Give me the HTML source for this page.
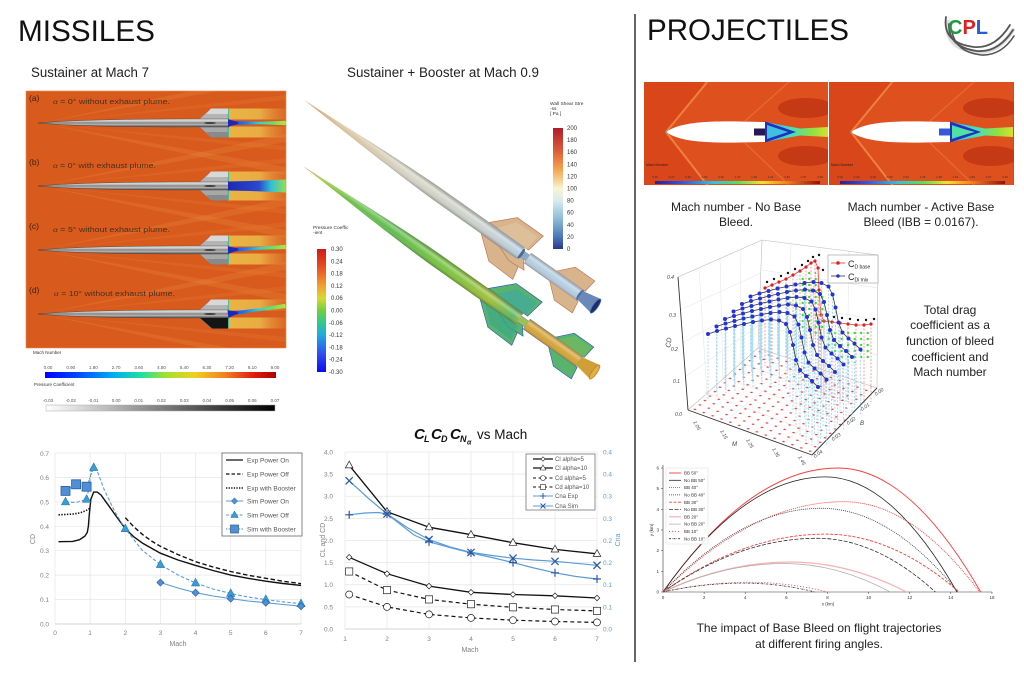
<!DOCTYPE html>
<html><head><meta charset="utf-8">
<style>
html,body{margin:0;padding:0;background:#fff;}
svg{display:block;}
text{font-family:"Liberation Sans",sans-serif;}
</style></head><body>
<svg width="1024" height="675" viewBox="0 0 1024 675" xmlns="http://www.w3.org/2000/svg">
<defs>
  <clipPath id="cfdClip"><rect x="26" y="91" width="260" height="257"/></clipPath>
  <clipPath id="p1Clip"><rect x="644" y="82" width="184" height="103"/></clipPath>
  <clipPath id="p2Clip"><rect x="829" y="82" width="185" height="103"/></clipPath>
  <linearGradient id="mbody" x1="0" y1="-4" x2="0" y2="4" gradientUnits="userSpaceOnUse">
    <stop offset="0" stop-color="#e8e8e8"/><stop offset=".3" stop-color="#c4c4c4"/>
    <stop offset=".5" stop-color="#808080"/><stop offset=".65" stop-color="#b8b8b8"/>
    <stop offset="1" stop-color="#505050"/>
  </linearGradient>
  <linearGradient id="plumeG" x1="226" y1="0" x2="286" y2="0" gradientUnits="userSpaceOnUse">
    <stop offset="0" stop-color="#1830d0"/><stop offset=".35" stop-color="#2080f0"/>
    <stop offset=".55" stop-color="#30d0d0"/><stop offset=".8" stop-color="#70e060"/>
    <stop offset="1" stop-color="#c0e040"/>
  </linearGradient>
  <linearGradient id="plumeG2" x1="226" y1="0" x2="286" y2="0" gradientUnits="userSpaceOnUse">
    <stop offset="0" stop-color="#1c28b0"/><stop offset=".55" stop-color="#2a48d0"/>
    <stop offset=".75" stop-color="#30c0d8"/><stop offset="1" stop-color="#90e050"/>
  </linearGradient>
  <linearGradient id="wakeG" x1="228" y1="0" x2="286" y2="0" gradientUnits="userSpaceOnUse">
    <stop offset="0" stop-color="#eab444" stop-opacity="1"/><stop offset=".55" stop-color="#e8ac44" stop-opacity="1"/>
    <stop offset="1" stop-color="#e48a38" stop-opacity=".3"/>
  </linearGradient>
  <linearGradient id="rainbow" x1="0" y1="0" x2="1" y2="0">
    <stop offset="0" stop-color="#0000ff"/><stop offset=".15" stop-color="#0050ff"/>
    <stop offset=".3" stop-color="#00b0f0"/><stop offset=".42" stop-color="#20e0a0"/>
    <stop offset=".52" stop-color="#a0e030"/><stop offset=".65" stop-color="#f0d020"/>
    <stop offset=".78" stop-color="#f08020"/><stop offset=".9" stop-color="#e02010"/>
    <stop offset="1" stop-color="#b00000"/>
  </linearGradient>
  <linearGradient id="grayG" x1="0" y1="0" x2="1" y2="0">
    <stop offset="0" stop-color="#ffffff"/><stop offset="1" stop-color="#000000"/>
  </linearGradient>
  <linearGradient id="machG" x1="0" y1="0" x2="1" y2="0">
    <stop offset="0" stop-color="#30208a"/><stop offset=".15" stop-color="#3050e0"/>
    <stop offset=".35" stop-color="#30c0e0"/><stop offset=".5" stop-color="#50e060"/>
    <stop offset=".65" stop-color="#f0e030"/><stop offset=".8" stop-color="#f08020"/>
    <stop offset="1" stop-color="#901010"/>
  </linearGradient>
  <linearGradient id="jetPlume" x1="765" y1="0" x2="828" y2="0" gradientUnits="userSpaceOnUse">
    <stop offset="0" stop-color="#30b0f0"/><stop offset=".4" stop-color="#40e0c0"/>
    <stop offset=".75" stop-color="#90e040"/><stop offset="1" stop-color="#d8e030"/>
  </linearGradient>
  <linearGradient id="wssG" x1="0" y1="0" x2="0" y2="1">
    <stop offset="0" stop-color="#b01c2a"/><stop offset=".2" stop-color="#e0603a"/>
    <stop offset=".35" stop-color="#f4a850"/><stop offset=".5" stop-color="#f8f4d0"/>
    <stop offset=".6" stop-color="#d8ecf0"/><stop offset=".75" stop-color="#8cbcd8"/>
    <stop offset=".9" stop-color="#4a78b8"/><stop offset="1" stop-color="#2a3888"/>
  </linearGradient>
  <linearGradient id="cpG" x1="0" y1="0" x2="0" y2="1">
    <stop offset="0" stop-color="#d01818"/><stop offset=".15" stop-color="#e85020"/>
    <stop offset=".3" stop-color="#f0a030"/><stop offset=".4" stop-color="#d8d830"/>
    <stop offset=".5" stop-color="#70d040"/><stop offset=".6" stop-color="#30c890"/>
    <stop offset=".7" stop-color="#20a8e0"/><stop offset=".85" stop-color="#3050f0"/>
    <stop offset="1" stop-color="#0a0af0"/>
  </linearGradient>
  <linearGradient id="upG" x1="0" y1="0" x2="358" y2="0" gradientUnits="userSpaceOnUse">
    <stop offset="0" stop-color="#d49060"/><stop offset=".12" stop-color="#d8c098"/>
    <stop offset=".35" stop-color="#d6d4c4"/><stop offset=".6" stop-color="#cdd2cc"/>
    <stop offset=".74" stop-color="#b8cedf"/><stop offset="1" stop-color="#a8c4dc"/>
  </linearGradient>
  <linearGradient id="loG" x1="0" y1="0" x2="358" y2="0" gradientUnits="userSpaceOnUse">
    <stop offset="0" stop-color="#e09040"/><stop offset=".06" stop-color="#a8c840"/>
    <stop offset=".15" stop-color="#70c048"/><stop offset=".3" stop-color="#60bc50"/>
    <stop offset=".5" stop-color="#7cc440"/><stop offset=".64" stop-color="#a0c038"/>
    <stop offset=".72" stop-color="#60b860"/><stop offset=".77" stop-color="#d4a838"/>
    <stop offset="1" stop-color="#d8a030"/>
  </linearGradient>
  <linearGradient id="shadeG" x1="0" y1="-7" x2="0" y2="7" gradientUnits="userSpaceOnUse">
    <stop offset="0" stop-color="#000" stop-opacity=".25"/><stop offset=".3" stop-color="#fff" stop-opacity=".35"/>
    <stop offset=".6" stop-color="#fff" stop-opacity="0"/><stop offset="1" stop-color="#000" stop-opacity=".3"/>
  </linearGradient>
  <pattern id="redDots" patternUnits="userSpaceOnUse" width="1" height="1" patternTransform="matrix(8.86,3.21,5,-4.43,688,410)">
    <circle cx=".5" cy=".5" r=".13" fill="#f03030"/>
  </pattern>
  <pattern id="greenDots" patternUnits="userSpaceOnUse" width="6.5" height="6">
    <circle cx="3.2" cy="3" r="1.2" fill="#30e030"/>
  </pattern>
  <marker id="bm" markerUnits="userSpaceOnUse" markerWidth="1" markerHeight="1" refX="0" refY="0" overflow="visible">
    <line x1="0" y1="0" x2="0" y2="66" stroke="#8fd0ee" stroke-width=".7" stroke-dasharray="2 1.5"/>
    <circle r="2" fill="#2233dd"/>
  </marker>
  <marker id="rm" markerUnits="userSpaceOnUse" markerWidth="1" markerHeight="1" refX="0" refY="0" overflow="visible">
    <line x1="0" y1="0" x2="0" y2="78" stroke="#f06060" stroke-width=".6" stroke-dasharray="2 1.5"/>
    <circle r="1.6" fill="#e02020"/>
  </marker>
  <marker id="c1d" markerUnits="userSpaceOnUse" markerWidth="1" markerHeight="1" refX="0" refY="0" overflow="visible">
    <path d="M0,-3.6 L3.6,0 L0,3.6 L-3.6,0Z" fill="#4f8fd6" stroke="#2d5d9a" stroke-width=".6"/>
  </marker>
  <marker id="c1t" markerUnits="userSpaceOnUse" markerWidth="1" markerHeight="1" refX="0" refY="0" overflow="visible">
    <path d="M0,-4.8 L4.2,3 L-4.2,3Z" fill="#3a9bd5" stroke="#2070a0" stroke-width=".5"/>
  </marker>
  <marker id="c1s" markerUnits="userSpaceOnUse" markerWidth="1" markerHeight="1" refX="0" refY="0" overflow="visible">
    <rect x="-4.5" y="-4.5" width="9" height="9" fill="#4f8fd6" stroke="#2d5d9a" stroke-width=".8"/>
  </marker>
  <marker id="m_d" markerUnits="userSpaceOnUse" markerWidth="1" markerHeight="1" refX="0" refY="0" overflow="visible">
    <path d="M0,-2.8 L2.8,0 L0,2.8 L-2.8,0Z" fill="#fff" stroke="#222" stroke-width=".7"/>
  </marker>
  <marker id="m_t" markerUnits="userSpaceOnUse" markerWidth="1" markerHeight="1" refX="0" refY="0" overflow="visible">
    <path d="M0,-4.2 L3.8,2.6 L-3.8,2.6Z" fill="#fff" stroke="#222" stroke-width=".7"/>
  </marker>
  <marker id="m_c" markerUnits="userSpaceOnUse" markerWidth="1" markerHeight="1" refX="0" refY="0" overflow="visible">
    <circle r="3.5" fill="#fff" stroke="#222" stroke-width=".7"/>
  </marker>
  <marker id="m_s" markerUnits="userSpaceOnUse" markerWidth="1" markerHeight="1" refX="0" refY="0" overflow="visible">
    <rect x="-3.6" y="-3.6" width="7.2" height="7.2" fill="#fff" stroke="#222" stroke-width=".7"/>
  </marker>
  <marker id="m_p" markerUnits="userSpaceOnUse" markerWidth="1" markerHeight="1" refX="0" refY="0" overflow="visible">
    <path d="M-4,0 L4,0 M0,-4 L0,4" stroke="#2c5aa8" stroke-width="1.2"/>
  </marker>
  <marker id="m_x" markerUnits="userSpaceOnUse" markerWidth="1" markerHeight="1" refX="0" refY="0" overflow="visible">
    <path d="M-3.6,-3.6 L3.6,3.6 M-3.6,3.6 L3.6,-3.6" stroke="#2c5aa8" stroke-width="1.3"/>
  </marker>

  <g id="mslBase">
    <path d="M40,0 L286,-52 L286,-44Z" fill="#ea8c3c" opacity=".28"/>
    <path d="M40,0 L286,52 L286,44Z" fill="#ea8c3c" opacity=".28"/>
    <path d="M60,-2 L286,-28 L286,-23Z" fill="#e67c30" opacity=".3"/>
    <path d="M60,2 L286,28 L286,23Z" fill="#e67c30" opacity=".3"/>
    <path d="M40,0 L200,-5 L200,5Z" fill="#e98a3a" opacity=".35"/>
    <rect x="228" y="-14.5" width="58" height="11" fill="url(#wakeG)"/>
    <rect x="228" y="3.5" width="58" height="11" fill="url(#wakeG)"/>
    <path d="M199,-3.5 L211,-14.5 L228,-14.5 L228,-3.5Z" fill="#b4b4b4" stroke="#777" stroke-width=".3"/>
    <path d="M211,-14.5 L228,-14.5 L228,-9 L206,-9Z" fill="#d8d8d8"/>
    <path d="M199,3.5 L211,14.5 L228,14.5 L228,3.5Z" fill="#a8a8a8" stroke="#666" stroke-width=".3"/>
    <path d="M206,9 L228,9 L228,14.5 L211,14.5Z" fill="#8a8a8a"/>
    <line x1="228.5" y1="-14" x2="228.5" y2="14" stroke="#40c0a0" stroke-width="1"/>
    <path d="M38,0 C70,-2.8 120,-4 200,-4 L229,-4 L229,4 L200,4 C120,4 70,2.8 38,0Z" fill="url(#mbody)" stroke="#333" stroke-width=".4"/>
    <ellipse cx="210" cy="0" rx="6" ry="1" fill="#404040"/>
  </g>
  <g id="thinPlume">
    <path d="M228,-2 L260,-1.3 L286,-2.2 L286,2.2 L260,1.3 L228,2Z" fill="url(#plumeG)"/>
    <path d="M228,-3.8 L238,-1 L238,1 L228,3.8Z" fill="#1828c0"/>
  </g>

  <g id="proj">
    <path d="M666,132 L707,82 L828,82 L828,185 L707,185Z" fill="#e35a22" opacity=".5"/>
    <ellipse cx="806" cy="108" rx="28" ry="10" fill="#a01808" opacity=".4"/>
    <ellipse cx="806" cy="156" rx="28" ry="10" fill="#a01808" opacity=".4"/>
    <line x1="666" y1="132" x2="708" y2="81" stroke="#f6a050" stroke-width="2" opacity=".65"/>
    <line x1="666" y1="132" x2="708" y2="186" stroke="#f6a050" stroke-width="2" opacity=".65"/>
    <line x1="745" y1="121" x2="790" y2="81" stroke="#f08040" stroke-width="1.3" opacity=".55"/>
    <line x1="745" y1="143" x2="790" y2="186" stroke="#f08040" stroke-width="1.3" opacity=".55"/>
    <path d="M765,122 L800,128.5 L828,127 L828,137 L800,135.5 L765,142Z" fill="url(#jetPlume)"/>
    <path d="M765,121.5 L796,132 L765,142.5Z" fill="#2030c0"/>
    <path d="M767,125 L788,132 L767,139Z" fill="#40c0e0"/>
    <path d="M666,132 C680,122 708,121 740,121.5 L765,122 L765,142 L740,142.5 C708,143 680,142 666,132Z" fill="#ffffff"/>
    <circle cx="666.5" cy="132" r="1" fill="#40c0e0"/>
    <text x="646" y="166" font-size="3.5" fill="#222">Mach Number</text>
    <rect x="655" y="181" width="165" height="3" fill="url(#machG)"/>
    <g font-size="3" fill="#333" text-anchor="middle">
      <text x="655" y="178">0.00</text><text x="671.5" y="178">0.23</text><text x="688" y="178">0.46</text>
      <text x="704.5" y="178">0.69</text><text x="721" y="178">0.92</text><text x="737.5" y="178">1.15</text>
      <text x="754" y="178">1.38</text><text x="770.5" y="178">1.61</text><text x="787" y="178">1.84</text>
      <text x="803.5" y="178">2.07</text><text x="820" y="178">2.30</text>
    </g>
  </g>

  <g id="rocketShapes">
    <path d="M222,-7 L242,-27 L274,-27 L270,-7Z"/>
    <path d="M222,7 L244,25 L274,26 L270,7Z"/>
    <path d="M232,2 L260,13 L278,12 L270,2Z"/>
    <rect x="264" y="-3.5" width="10" height="7"/>
    <rect x="274" y="-6" width="64" height="12"/>
    <path d="M305,-6 L318,-20 L342,-20 L340,-6Z"/>
    <path d="M305,6 L320,19 L342,19 L340,6Z"/>
  </g>
  <path id="sustBody" d="M0,0 C35,-1.5 95,-5.8 160,-7 L265,-7 L265,7 L160,7 C95,5.8 35,1.5 0,0Z"/>
</defs>

<rect width="1024" height="675" fill="#fff"/>

<!-- Titles -->
<text x="18" y="41" font-size="30" textLength="137" lengthAdjust="spacingAndGlyphs" fill="#111">MISSILES</text>
<text x="647" y="40" font-size="30" textLength="202" lengthAdjust="spacingAndGlyphs" fill="#111">PROJECTILES</text>
<text x="31" y="77" font-size="13.5" textLength="118" lengthAdjust="spacingAndGlyphs" fill="#222">Sustainer at Mach 7</text>
<text x="347" y="77" font-size="13.5" textLength="192" lengthAdjust="spacingAndGlyphs" fill="#222">Sustainer + Booster at Mach 0.9</text>
<line x1="635" y1="14" x2="635" y2="662" stroke="#333" stroke-width="1.5"/>

<!-- CPL logo -->
<g fill="none" stroke-linecap="round">
  <path d="M946,19 Q942,45 974,49 Q996,51 1011,27" stroke="#bbb" stroke-width="4" opacity=".5" transform="translate(2,3)"/>
  <path d="M946,17 Q942,43 974,47 Q995,49 1010,25" stroke="#555" stroke-width="1.8"/>
  <path d="M949,24 Q948,47 977,51 Q998,53 1013,30" stroke="#555" stroke-width="1.8"/>
  <path d="M952,32 Q956,52 981,55 Q1001,56 1014,36" stroke="#555" stroke-width="1.6"/>
</g>
<text x="948" y="34" font-size="20" font-weight="bold"><tspan fill="#1a9a40">C</tspan><tspan fill="#e02020">P</tspan><tspan fill="#2060d0">L</tspan></text>

<!-- Left CFD image -->
<g clip-path="url(#cfdClip)">
  <rect x="26" y="91" width="260" height="257" fill="#d85a1c"/>
  <g transform="translate(0,123)"><use href="#mslBase"/><use href="#thinPlume"/></g>
  <g transform="translate(0,186)"><use href="#mslBase"/>
    <path d="M228,-4.5 L250,-5 L286,-6.5 L286,6.5 L250,5 L228,4.5Z" fill="url(#plumeG2)"/>
  </g>
  <g transform="translate(0,250)"><use href="#mslBase"/><use href="#thinPlume" transform="rotate(-3,228,0)"/></g>
  <g transform="translate(0,314)"><use href="#mslBase"/>
    <path d="M200,4 L212,14.5 L228,14.5 L228,4Z" fill="#151515"/>
    <use href="#thinPlume" transform="rotate(-8,228,0)"/>
  </g>
</g>
<rect x="26" y="91" width="260" height="257" fill="none" stroke="#e88a50" stroke-width=".6"/>
<g fill="#3a2418">
  <text x="29" y="101" font-size="8.5">(a)</text>
  <text x="29" y="165" font-size="8.5">(b)</text>
  <text x="29" y="229" font-size="8.5">(c)</text>
  <text x="29" y="293" font-size="8.5">(d)</text>
</g>
<g fill="#4a3020" font-size="7.5">
  <text x="53" y="104" textLength="117" lengthAdjust="spacingAndGlyphs"><tspan font-family="Liberation Serif" font-style="italic">α</tspan> = 0° without exhaust plume.</text>
  <text x="53" y="168" textLength="103" lengthAdjust="spacingAndGlyphs"><tspan font-family="Liberation Serif" font-style="italic">α</tspan> = 0° with exhaust plume.</text>
  <text x="53" y="232" textLength="117" lengthAdjust="spacingAndGlyphs"><tspan font-family="Liberation Serif" font-style="italic">α</tspan> = 5° without exhaust plume.</text>
  <text x="54" y="296" textLength="121" lengthAdjust="spacingAndGlyphs"><tspan font-family="Liberation Serif" font-style="italic">α</tspan> = 10° without exhaust plume.</text>
</g>

<!-- Left colorbars -->
<text x="33" y="354" font-size="4.5" fill="#333">Mach Number</text>
<g font-size="4.5" fill="#555" text-anchor="middle">
  <text x="48" y="369">0.00</text><text x="70.7" y="369">0.90</text><text x="93.4" y="369">1.80</text>
  <text x="116.1" y="369">2.70</text><text x="138.8" y="369">3.60</text><text x="161.5" y="369">4.50</text>
  <text x="184.2" y="369">5.40</text><text x="206.9" y="369">6.30</text><text x="229.6" y="369">7.20</text>
  <text x="252.3" y="369">8.10</text><text x="275" y="369">9.00</text>
</g>
<rect x="45" y="372" width="231" height="6" fill="url(#rainbow)"/>
<text x="34" y="386" font-size="4.5" fill="#333">Pressure Coefficient</text>
<g font-size="4.5" fill="#555" text-anchor="middle">
  <text x="48" y="402">-0.03</text><text x="70.7" y="402">-0.02</text><text x="93.4" y="402">-0.01</text>
  <text x="116.1" y="402">0.00</text><text x="138.8" y="402">0.01</text><text x="161.5" y="402">0.02</text>
  <text x="184.2" y="402">0.03</text><text x="206.9" y="402">0.04</text><text x="229.6" y="402">0.05</text>
  <text x="252.3" y="402">0.06</text><text x="275" y="402">0.07</text>
</g>
<rect x="46" y="405" width="229" height="6" fill="url(#grayG)" stroke="#aaa" stroke-width=".5"/>

<!-- Middle rockets -->
<g transform="translate(304,100) rotate(35.25)">
  <g fill="#d8b48c" stroke="#c06a48" stroke-width=".6"><use href="#rocketShapes"/></g>
  <rect x="264" y="-3.5" width="10" height="7" fill="#8aaac8"/>
  <rect x="274" y="-6" width="64" height="12" fill="#b4cde0"/>
  <rect x="274" y="-6" width="64" height="12" fill="url(#shadeG)"/>
  <ellipse cx="266" cy="0" rx="2" ry="6" fill="#4a6a9a"/>
  <ellipse cx="338" cy="0" rx="2" ry="6" fill="#4a6a9a"/>
  <path d="M338,-5 L356,-8.5 L358,8.5 L338,5Z" fill="#6a88b8"/>
  <ellipse cx="357" cy="0" rx="2.5" ry="8.5" fill="#1e2c6a" stroke="#4a70b0" stroke-width=".8"/>
  <use href="#sustBody" fill="url(#upG)"/>
  <use href="#sustBody" fill="url(#shadeG)"/>
  <path d="M232,-7 L244,-23 L270,-23 L268,-7Z" fill="#e0c4a0" opacity=".7"/>
</g>
<g transform="translate(303,166) rotate(35.25)">
  <g fill="#58b46c" stroke="#2a50d0" stroke-width=".6"><use href="#rocketShapes"/></g>
  <path d="M232,-7 L246,-23 L270,-23 L268,-7Z" fill="#40a8a0" opacity=".7"/>
  <path d="M228,7 L244,21 L270,22 L268,7Z" fill="#3ca888" opacity=".7"/>
  <rect x="264" y="-3.5" width="10" height="7" fill="#9cc058"/>
  <rect x="274" y="-6" width="64" height="12" fill="#d4a438"/>
  <rect x="274" y="-6" width="64" height="12" fill="url(#shadeG)"/>
  <path d="M309,-6 L320,-18 L340,-18 L340,-6Z" fill="#70b860" opacity=".8"/>
  <path d="M338,-5 L356,-8.5 L358,8.5 L338,5Z" fill="#d0a038"/>
  <ellipse cx="357" cy="0" rx="2.5" ry="8.5" fill="#e0b040" stroke="#c08030" stroke-width=".8"/>
  <use href="#sustBody" fill="url(#loG)"/>
  <use href="#sustBody" fill="url(#shadeG)"/>
</g>

<!-- Wall shear colorbar -->
<g font-size="4.8" fill="#333">
  <text x="550" y="105">Wall Shear Stre</text><text x="550" y="110">-ss</text><text x="550" y="115">[ Pa ]</text>
</g>
<rect x="553" y="128" width="10" height="121" fill="url(#wssG)"/>
<g font-size="6" fill="#333">
  <text x="567" y="130">200</text><text x="567" y="142.1">180</text><text x="567" y="154.2">160</text>
  <text x="567" y="166.3">140</text><text x="567" y="178.4">120</text><text x="567" y="190.5">100</text>
  <text x="567" y="202.6">80</text><text x="567" y="214.7">60</text><text x="567" y="226.8">40</text>
  <text x="567" y="238.9">20</text><text x="567" y="251">0</text>
</g>
<!-- Pressure colorbar -->
<g font-size="4.8" fill="#333">
  <text x="313" y="229">Pressure Coeffic</text><text x="313" y="234">-ient</text>
</g>
<rect x="317" y="249" width="9" height="123" fill="url(#cpG)"/>
<g font-size="6" fill="#333">
  <text x="331" y="251">0.30</text><text x="331" y="263.3">0.24</text><text x="331" y="275.6">0.18</text>
  <text x="331" y="287.9">0.12</text><text x="331" y="300.2">0.06</text><text x="331" y="312.5">0.00</text>
  <text x="329" y="324.8">-0.06</text><text x="329" y="337.1">-0.12</text><text x="329" y="349.4">-0.18</text>
  <text x="329" y="361.7">-0.24</text><text x="329" y="374">-0.30</text>
</g>

<!-- Projectile images -->
<g clip-path="url(#p1Clip)">
  <rect x="644" y="82" width="184" height="103" fill="#d9461a"/>
  <use href="#proj"/>
  <rect x="754" y="128.5" width="11" height="7" fill="#2a1850"/>
</g>
<g clip-path="url(#p2Clip)">
  <rect x="829" y="82" width="185" height="103" fill="#d9461a"/>
  <g transform="translate(185,0)"><use href="#proj"/>
    <rect x="754" y="128.5" width="11" height="7" fill="#3858d8"/>
    <path d="M767,126 L790,132 L767,138Z" fill="#50e0a0"/>
  </g>
</g>
<line x1="828.5" y1="82" x2="828.5" y2="185" stroke="#fff" stroke-width="1"/>

<g font-size="12" fill="#222" text-anchor="middle">
  <text x="736" y="211">Mach number - No Base</text>
  <text x="736" y="226">Bleed.</text>
  <text x="921" y="211">Mach number - Active Base</text>
  <text x="921" y="226">Bleed (IBB = 0.0167).</text>
  <text x="950" y="314">Total drag</text>
  <text x="950" y="329">coefficient as a</text>
  <text x="950" y="345">function of bleed</text>
  <text x="950" y="361">coefficient and</text>
  <text x="950" y="376">Mach number</text>
  <text x="819" y="632">The impact of Base Bleed on flight trajectories</text>
  <text x="819" y="648">at different firing angles.</text>
</g>

<!-- 3D plot -->
<g>
  <g stroke="#e2e2e2" stroke-width=".5" fill="none">
    <line x1="699" y1="268" x2="707" y2="394"/><line x1="720" y1="258.5" x2="723" y2="379"/><line x1="741" y1="249" x2="740" y2="364"/>
    <line x1="680" y1="310" x2="761" y2="273"/><line x1="682" y1="343" x2="760" y2="300"/><line x1="685" y1="377" x2="759" y2="325"/>
    <line x1="791" y1="244" x2="788" y2="358"/><line x1="820" y1="248" x2="818" y2="368"/><line x1="849" y1="251" x2="847" y2="378"/>
    <line x1="762" y1="270" x2="878" y2="288"/><line x1="761" y1="300" x2="878" y2="320"/><line x1="760" y1="325" x2="877" y2="355"/>
    <line x1="720" y1="425" x2="789" y2="370"/><line x1="750" y1="436" x2="818" y2="380"/><line x1="780" y1="446" x2="848" y2="390"/>
    <line x1="705" y1="392" x2="826" y2="438"/><line x1="721" y1="376" x2="842" y2="421"/><line x1="738" y1="362" x2="858" y2="405"/>
  </g>
  <g stroke="#bbb" stroke-width=".6" fill="none">
    <line x1="678" y1="277" x2="762" y2="240"/><line x1="762" y1="240" x2="878" y2="255"/>
    <line x1="762" y1="240" x2="758" y2="348"/><line x1="878" y1="255" x2="877" y2="388"/>
    <line x1="758" y1="348" x2="688" y2="410"/><line x1="758" y1="348" x2="877" y2="388"/>
  </g>
  <polygon points="688,410 812,455 877,388 758,348" fill="url(#redDots)"/>
  <g stroke="#333" stroke-width=".9" fill="none">
    <line x1="678" y1="277" x2="688" y2="410"/><line x1="688" y1="410" x2="812" y2="455"/><line x1="812" y1="455" x2="877" y2="388"/>
  </g>
  <polygon points="785,290 812,266 818,276 830,320 820,335 800,330" fill="url(#greenDots)"/>
  <polygon points="823,328 872,330 870,360 850,364 826,346" fill="url(#greenDots)"/>
  <polyline points="765,288 772,285 779,282 786,279 793,275 800,271 806,267 811,263 815,261 818,268 819,290 821,315 824,321 832,322 840,323 848,324 856,325 864,325 871,324" fill="none" stroke="#e84040" stroke-width=".8" marker-start="url(#rm)" marker-mid="url(#rm)" marker-end="url(#rm)"/>
  <g fill="#111">
    <circle cx="767" cy="282" r="1.2"/><circle cx="774" cy="279" r="1.2"/><circle cx="781" cy="276" r="1.2"/>
    <circle cx="788" cy="273" r="1.2"/><circle cx="795" cy="269" r="1.2"/><circle cx="802" cy="265" r="1.2"/>
    <circle cx="808" cy="261" r="1.2"/><circle cx="813" cy="257" r="1.2"/><circle cx="819" cy="255" r="1.2"/>
    <circle cx="823" cy="270" r="1.2"/><circle cx="827" cy="316" r="1.2"/><circle cx="834" cy="317" r="1.2"/>
    <circle cx="842" cy="318" r="1.2"/><circle cx="850" cy="319" r="1.2"/><circle cx="858" cy="320" r="1.2"/>
    <circle cx="866" cy="320" r="1.2"/><circle cx="874" cy="319" r="1.2"/>
  </g>
  <g fill="none" stroke="#333" stroke-width=".8" marker-start="url(#bm)" marker-mid="url(#bm)" marker-end="url(#bm)">
    <polyline transform="translate(42.5,-37.5)" points="708,334 717,331 726,328.5 735,326 744,324 753,322 762,320.5 771,319.5 779,320.5 786,324 790,332 793,345 796,360 800,370 806,376 812,381 818,387"/>
    <polyline transform="translate(34,-30)" points="708,334 717,331 726,328.5 735,326 744,324 753,322 762,320.5 771,319.5 779,320.5 786,324 790,332 793,345 796,360 800,370 806,376 812,381 818,387"/>
    <polyline transform="translate(25.5,-22.5)" points="708,334 717,331 726,328.5 735,326 744,324 753,322 762,320.5 771,319.5 779,320.5 786,324 790,332 793,345 796,360 800,370 806,376 812,381 818,387"/>
    <polyline transform="translate(17,-15)" points="708,334 717,331 726,328.5 735,326 744,324 753,322 762,320.5 771,319.5 779,320.5 786,324 790,332 793,345 796,360 800,370 806,376 812,381 818,387"/>
    <polyline transform="translate(8.5,-7.5)" points="708,334 717,331 726,328.5 735,326 744,324 753,322 762,320.5 771,319.5 779,320.5 786,324 790,332 793,345 796,360 800,370 806,376 812,381 818,387"/>
    <polyline points="708,334 717,331 726,328.5 735,326 744,324 753,322 762,320.5 771,319.5 779,320.5 786,324 790,332 793,345 796,360 800,370 806,376 812,381 818,387"/>
  </g>
  <rect x="828" y="255" width="50" height="28" fill="#fff" stroke="#999" stroke-width=".6"/>
  <line x1="831" y1="263" x2="845" y2="263" stroke="#e03030" stroke-width=".8"/><circle cx="838" cy="263" r="1.8" fill="#e02020"/>
  <text x="848" y="267" font-size="9" fill="#222">C<tspan font-size="5" dy="1.5">D base</tspan></text>
  <line x1="831" y1="276" x2="845" y2="276" stroke="#333" stroke-width=".8"/><circle cx="838" cy="276" r="1.8" fill="#2233dd"/>
  <text x="848" y="280" font-size="9" fill="#222">C<tspan font-size="5" dy="1.5">Di mix</tspan></text>
  <g font-size="5" font-style="italic" fill="#444">
    <text x="667" y="279">0.4</text><text x="669" y="317">0.3</text><text x="671" y="351">0.2</text>
    <text x="673" y="383">0.1</text><text x="675" y="416">0.0</text>
    <text x="670" y="348" transform="rotate(-80,670,348)" font-size="7">CD</text>
    <text x="693" y="422" transform="rotate(60,693,422)">1.05</text>
    <text x="720" y="431" transform="rotate(60,720,431)">1.15</text>
    <text x="746" y="440" transform="rotate(60,746,440)">1.25</text>
    <text x="772" y="449" transform="rotate(60,772,449)">1.35</text>
    <text x="798" y="457" transform="rotate(60,798,457)">1.45</text>
    <text x="732" y="446" font-size="6">M</text>
    <text x="815" y="458" transform="rotate(-35,815,458)">0.04</text>
    <text x="833" y="441" transform="rotate(-35,833,441)">0.03</text>
    <text x="848" y="425" transform="rotate(-35,848,425)">0.02</text>
    <text x="862" y="411" transform="rotate(-35,862,411)">0.01</text>
    <text x="876" y="396" transform="rotate(-35,876,396)">0.00</text>
    <text x="860" y="425" font-size="6">B</text>
  </g>
</g>

<!-- Chart 1: CD vs Mach -->
<g stroke="#e6e6e6" stroke-width=".7">
  <line x1="55" y1="453" x2="301" y2="453"/><line x1="55" y1="477.4" x2="301" y2="477.4"/>
  <line x1="55" y1="501.9" x2="301" y2="501.9"/><line x1="55" y1="526.3" x2="301" y2="526.3"/>
  <line x1="55" y1="550.7" x2="301" y2="550.7"/><line x1="55" y1="575.1" x2="301" y2="575.1"/>
  <line x1="55" y1="599.6" x2="301" y2="599.6"/>
  <line x1="55" y1="453" x2="55" y2="624"/><line x1="90.1" y1="453" x2="90.1" y2="624"/>
  <line x1="125.3" y1="453" x2="125.3" y2="624"/><line x1="160.4" y1="453" x2="160.4" y2="624"/>
  <line x1="195.6" y1="453" x2="195.6" y2="624"/><line x1="230.7" y1="453" x2="230.7" y2="624"/>
  <line x1="265.8" y1="453" x2="265.8" y2="624"/><line x1="301" y1="453" x2="301" y2="624"/>
</g>
<line x1="55" y1="624" x2="301" y2="624" stroke="#c8c8c8" stroke-width=".8"/>
<g font-size="6.5" fill="#808080" text-anchor="end">
  <text x="49" y="456">0.7</text><text x="49" y="480">0.6</text><text x="49" y="504.5">0.5</text>
  <text x="49" y="529">0.4</text><text x="49" y="553">0.3</text><text x="49" y="577.5">0.2</text>
  <text x="49" y="602">0.1</text><text x="49" y="626.5">0.0</text>
</g>
<g font-size="6.5" fill="#808080" text-anchor="middle">
  <text x="55" y="635">0</text><text x="90.1" y="635">1</text><text x="125.3" y="635">2</text>
  <text x="160.4" y="635">3</text><text x="195.6" y="635">4</text><text x="230.7" y="635">5</text>
  <text x="265.8" y="635">6</text><text x="301" y="635">7</text>
  <text x="178" y="646" font-size="7">Mach</text>
  <text x="35" y="539" font-size="7" transform="rotate(-90,35,539)">CD</text>
</g>
<polyline fill="none" stroke="#111" stroke-width="1.4" points="58.5,541.7 72.6,541.4 79.6,539.7 84.9,536.1 87.3,532.4 88.4,526 89.1,516.5 90.8,499.4 93.7,492.1 97.2,492.1 101,495 107.7,504.3 116,516 125.3,528.7 134,537 142.9,543.4 160.4,553.2 178,560 195.6,565.4 213,570.5 230.7,575.1 248,578.3 265.8,581.2 283,583.5 301,585.4"/>
<polyline fill="none" stroke="#111" stroke-width="1.4" stroke-dasharray="4.5 2.5" points="125.3,517.7 134,527 142.9,534.8 151.5,541 160.4,546.3 178,554.6 195.6,561.7 213,567 230.7,571.5 248,575.2 265.8,578.3 283,581.2 301,583.7"/>
<polyline fill="none" stroke="#111" stroke-width="1.6" stroke-dasharray="1.4 1.4" points="58.5,514.8 72.6,514.1 80,512.9 85,511 88.5,509.3 90.1,508"/>
<polyline fill="none" stroke="#5b9bd5" stroke-width="1.1" stroke-dasharray="3.5 2" points="65.5,501.9 76,502.5 86.6,499.4 89.5,485 91,471 93.7,467.6 98,473 104.2,489.6 114.7,511.6 125.3,528.7 142,550 160.4,564.6 178,575 195.6,583 213,589 230.7,593.5 248,597 265.8,599.6 283,601.8 301,603.7"/>
<polyline fill="none" stroke="none" marker-start="url(#c1t)" marker-mid="url(#c1t)" marker-end="url(#c1t)" points="65.5,501.9 86.6,499.4 93.7,467.6 125.3,528.7 160.4,564.6 195.6,583 230.7,593.5 265.8,599.6 301,603.7"/>
<polyline fill="none" stroke="#5b9bd5" stroke-width="1.1" points="160.4,582.5 178,588 195.6,592.7 213,596 230.7,598.6 248,601 265.8,602.7 283,604.5 301,606.2"/>
<polyline fill="none" stroke="none" marker-start="url(#c1d)" marker-mid="url(#c1d)" marker-end="url(#c1d)" points="160.4,582.5 195.6,592.7 230.7,598.6 265.8,602.7 301,606.2"/>
<polyline fill="none" stroke="#5b9bd5" stroke-width="1.3" stroke-dasharray="1.3 1.3" points="65.5,490.9 76.1,484.3 86.6,486.7 93.7,467.6"/>
<polyline fill="none" stroke="none" marker-start="url(#c1s)" marker-mid="url(#c1s)" marker-end="url(#c1s)" points="65.5,490.9 76.1,484.3 86.6,486.7"/>
<!-- chart1 legend -->
<rect x="222" y="453" width="80" height="83" fill="#fff" stroke="#777" stroke-width=".9"/>
<line x1="226" y1="460" x2="243" y2="460" stroke="#111" stroke-width="1.3"/>
<line x1="226" y1="474" x2="243" y2="474" stroke="#111" stroke-width="1.3" stroke-dasharray="3.5 2"/>
<line x1="226" y1="488" x2="243" y2="488" stroke="#111" stroke-width="1.5" stroke-dasharray="1.3 1.3"/>
<line x1="226" y1="501" x2="243" y2="501" stroke="#5b9bd5" stroke-width="1.1"/>
<path d="M234.5,497.8 L237.7,501 L234.5,504.2 L231.3,501Z" fill="#4f8fd6" stroke="#2d5d9a" stroke-width=".5"/>
<line x1="226" y1="515" x2="243" y2="515" stroke="#5b9bd5" stroke-width="1.1" stroke-dasharray="3 1.5"/>
<path d="M234.5,511 L238.2,517.5 L230.8,517.5Z" fill="#3a9bd5" stroke="#2070a0" stroke-width=".5"/>
<line x1="226" y1="529" x2="243" y2="529" stroke="#5b9bd5" stroke-width="1.3" stroke-dasharray="1.3 1.3"/>
<rect x="230.5" y="525" width="8" height="8" fill="#4f8fd6" stroke="#2d5d9a" stroke-width=".7"/>
<g font-size="6.5" fill="#555">
  <text x="247" y="462.5">Exp Power On</text><text x="247" y="476.5">Exp Power Off</text>
  <text x="247" y="490.5">Exp with Booster</text><text x="247" y="503.5">Sim Power On</text>
  <text x="247" y="517.5">Sim Power Off</text><text x="247" y="531.5">Sim with Booster</text>
</g>

<!-- Chart 2 -->
<text x="414" y="439" font-family="Liberation Serif" font-style="italic" font-weight="bold" font-size="15" fill="#111">C</text>
<text x="424" y="442" font-family="Liberation Serif" font-style="italic" font-weight="bold" font-size="9" fill="#111">L</text>
<text x="431" y="439" font-family="Liberation Serif" font-style="italic" font-weight="bold" font-size="15" fill="#111">C</text>
<text x="441" y="442" font-family="Liberation Serif" font-style="italic" font-weight="bold" font-size="9" fill="#111">D</text>
<text x="450" y="439" font-family="Liberation Serif" font-style="italic" font-weight="bold" font-size="15" fill="#111">C</text>
<text x="460" y="442" font-family="Liberation Serif" font-style="italic" font-weight="bold" font-size="9" fill="#111">N</text>
<text x="467" y="444.5" font-family="Liberation Serif" font-style="italic" font-weight="bold" font-size="7" fill="#111">α</text>
<text x="477" y="439" font-size="13.5" fill="#111">vs Mach</text>
<g stroke="#e6e6e6" stroke-width=".7">
  <line x1="345" y1="452" x2="597" y2="452"/><line x1="345" y1="474.1" x2="597" y2="474.1"/>
  <line x1="345" y1="496.25" x2="597" y2="496.25"/><line x1="345" y1="518.4" x2="597" y2="518.4"/>
  <line x1="345" y1="540.5" x2="597" y2="540.5"/><line x1="345" y1="562.6" x2="597" y2="562.6"/>
  <line x1="345" y1="584.75" x2="597" y2="584.75"/><line x1="345" y1="606.9" x2="597" y2="606.9"/>
  <line x1="345" y1="452" x2="345" y2="629"/><line x1="387" y1="452" x2="387" y2="629"/>
  <line x1="429" y1="452" x2="429" y2="629"/><line x1="471" y1="452" x2="471" y2="629"/>
  <line x1="513" y1="452" x2="513" y2="629"/><line x1="555" y1="452" x2="555" y2="629"/>
  <line x1="597" y1="452" x2="597" y2="629"/>
</g>
<line x1="345" y1="629" x2="597" y2="629" stroke="#c8c8c8" stroke-width=".8"/>
<g font-size="6.5" fill="#808080" text-anchor="end">
  <text x="333" y="454.5">4.0</text><text x="333" y="476.5">3.5</text><text x="333" y="498.5">3.0</text>
  <text x="333" y="521">2.5</text><text x="333" y="543">2.0</text><text x="333" y="565">1.5</text>
  <text x="333" y="587">1.0</text><text x="333" y="609.5">0.5</text><text x="333" y="631.5">0.0</text>
</g>
<g font-size="6.5" fill="#5b9bd5">
  <text x="603" y="454.5">0.4</text><text x="603" y="476.5">0.4</text><text x="603" y="498.5">0.3</text>
  <text x="603" y="521">0.3</text><text x="603" y="543">0.2</text><text x="603" y="565">0.2</text>
  <text x="603" y="587">0.1</text><text x="603" y="609.5">0.1</text><text x="603" y="631.5">0.0</text>
  <text x="620" y="540" font-size="7" text-anchor="middle" transform="rotate(-90,620,540)">Cna</text>
</g>
<g font-size="6.5" fill="#808080" text-anchor="middle">
  <text x="345" y="641">1</text><text x="387" y="641">2</text><text x="429" y="641">3</text>
  <text x="471" y="641">4</text><text x="513" y="641">5</text><text x="555" y="641">6</text><text x="597" y="641">7</text>
  <text x="470" y="652" font-size="7">Mach</text>
  <text x="325" y="540" font-size="7" transform="rotate(-90,325,540)">CL and CD</text>
</g>
<polyline fill="none" stroke="#111" stroke-width="1.3" marker-start="url(#m_t)" marker-mid="url(#m_t)" marker-end="url(#m_t)" points="349.2,465.3 387,511.7 429,527.2 471,534.7 513,542.7 555,549.4 597,553.8"/>
<polyline fill="none" stroke="#111" stroke-width="1.3" marker-start="url(#m_d)" marker-mid="url(#m_d)" marker-end="url(#m_d)" points="349.2,557.3 387,573.7 429,586.1 471,592.3 513,594.5 555,595.8 597,598"/>
<polyline fill="none" stroke="#111" stroke-width="1.2" stroke-dasharray="4 3" marker-start="url(#m_s)" marker-mid="url(#m_s)" marker-end="url(#m_s)" points="349.2,571.5 387,590.1 429,599.4 471,604.2 513,607.3 555,609.5 597,610.9"/>
<polyline fill="none" stroke="#111" stroke-width="1.2" stroke-dasharray="4 3" marker-start="url(#m_c)" marker-mid="url(#m_c)" marker-end="url(#m_c)" points="349.2,594.5 387,606.9 429,614.4 471,617.9 513,620.2 555,621.5 597,622.4"/>
<polyline fill="none" stroke="#5b9bd5" stroke-width="1.2" points="349.2,514.8 365,513 378,512.5 387,514 400,524 414,535 429,541.8 450,547.5 471,552.9 492,557.5 513,562.6 534,568 555,572.8 576,576.5 597,579"/>
<polyline fill="none" stroke="none" marker-start="url(#m_p)" marker-mid="url(#m_p)" marker-end="url(#m_p)" points="349.2,514.8 387,514 429,541.8 471,552.9 513,562.6 555,572.8 597,579"/>
<polyline fill="none" stroke="#5b9bd5" stroke-width="1.2" points="349.2,480.8 368,498 387,514 408,528 429,539.6 450,547 471,552.4 492,555.5 513,558.2 534,560 555,561.3 576,563.3 597,565.3"/>
<polyline fill="none" stroke="none" marker-start="url(#m_x)" marker-mid="url(#m_x)" marker-end="url(#m_x)" points="349.2,480.8 387,514 429,539.6 471,552.4 513,558.2 555,561.3 597,565.3"/>
<!-- chart2 legend -->
<rect x="526" y="454" width="69" height="56" fill="#fff" stroke="#777" stroke-width=".8"/>
<line x1="533" y1="459" x2="553" y2="459" stroke="#111" stroke-width="1.2"/><path d="M543,456.8 L545.2,459 L543,461.2 L540.8,459Z" fill="#fff" stroke="#222" stroke-width=".6"/>
<line x1="533" y1="468" x2="553" y2="468" stroke="#111" stroke-width="1.2"/><path d="M543,465 L546,470 L540,470Z" fill="#fff" stroke="#222" stroke-width=".6"/>
<line x1="533" y1="478" x2="553" y2="478" stroke="#111" stroke-width="1.1" stroke-dasharray="3 2.5"/><circle cx="543" cy="478" r="2.5" fill="#fff" stroke="#222" stroke-width=".6"/>
<line x1="533" y1="487" x2="553" y2="487" stroke="#111" stroke-width="1.1" stroke-dasharray="3 2.5"/><rect x="540.5" y="484.5" width="5" height="5" fill="#fff" stroke="#222" stroke-width=".6"/>
<line x1="533" y1="496" x2="553" y2="496" stroke="#5b9bd5" stroke-width="1.1"/><path d="M540,496 L546,496 M543,493 L543,499" stroke="#2c5aa8" stroke-width="1"/>
<line x1="533" y1="506" x2="553" y2="506" stroke="#5b9bd5" stroke-width="1.1"/><path d="M540.5,503.5 L545.5,508.5 M540.5,508.5 L545.5,503.5" stroke="#2c5aa8" stroke-width="1"/>
<g font-size="6" fill="#555">
  <text x="555" y="461">Cl alpha=5</text><text x="555" y="470">Cl alpha=10</text>
  <text x="555" y="480">Cd alpha=5</text><text x="555" y="489">Cd alpha=10</text>
  <text x="555" y="498">Cna Exp</text><text x="555" y="508">Cna Sim</text>
</g>

<!-- Trajectory chart -->
<line x1="663" y1="465" x2="663" y2="592" stroke="#333" stroke-width=".6"/>
<line x1="663" y1="592" x2="992" y2="592" stroke="#333" stroke-width=".6"/>
<g stroke="#333" stroke-width=".5">
  <line x1="661" y1="592" x2="663" y2="592"/><line x1="661" y1="571.3" x2="663" y2="571.3"/><line x1="661" y1="550.7" x2="663" y2="550.7"/>
  <line x1="661" y1="530" x2="663" y2="530"/><line x1="661" y1="509.3" x2="663" y2="509.3"/><line x1="661" y1="488.7" x2="663" y2="488.7"/>
  <line x1="661" y1="468" x2="663" y2="468"/>
  <line x1="704.1" y1="592" x2="704.1" y2="594"/><line x1="745.2" y1="592" x2="745.2" y2="594"/><line x1="786.4" y1="592" x2="786.4" y2="594"/>
  <line x1="827.5" y1="592" x2="827.5" y2="594"/><line x1="868.6" y1="592" x2="868.6" y2="594"/><line x1="909.7" y1="592" x2="909.7" y2="594"/>
  <line x1="950.8" y1="592" x2="950.8" y2="594"/><line x1="992" y1="592" x2="992" y2="594"/>
</g>
<g font-size="4.5" fill="#333" text-anchor="end">
  <text x="659" y="593.5">0</text><text x="659" y="572.8">1</text><text x="659" y="552.2">2</text>
  <text x="659" y="531.5">3</text><text x="659" y="510.8">4</text><text x="659" y="490.2">5</text><text x="659" y="469.5">6</text>
</g>
<g font-size="4.5" fill="#333" text-anchor="middle">
  <text x="663" y="599">0</text><text x="704.1" y="599">2</text><text x="745.2" y="599">4</text><text x="786.4" y="599">6</text>
  <text x="827.5" y="599">8</text><text x="868.6" y="599">10</text><text x="909.7" y="599">12</text><text x="950.8" y="599">14</text>
  <text x="992" y="599">16</text>
  <text x="828" y="605.5">x (km)</text>
  <text x="653" y="530" transform="rotate(-90,653,530)">y (km)</text>
</g>
<g fill="none">
  <path d="M663,592 Q750.4,468 837.8,468 Q909.3,468 980.7,592" stroke="#ff3a3a" stroke-width=".9"/>
  <path d="M663,592 Q744.2,476.9 825.4,476.9 Q891.2,476.9 957,592" stroke="#222" stroke-width=".8"/>
  <path d="M663,592 Q753.4,501.7 843.9,501.7 Q911.8,501.7 979.6,592" stroke="#ff3a3a" stroke-width=".9" stroke-dasharray="1 1"/>
  <path d="M663,592 Q742.2,508.3 821.3,508.3 Q889.7,508.3 958,592" stroke="#333" stroke-width=".8" stroke-dasharray="1 1"/>
  <path d="M663,592 Q744.2,534.1 825.4,534.1 Q892.3,534.1 959.1,592" stroke="#ff3a3a" stroke-width=".9" stroke-dasharray="3 1.5"/>
  <path d="M663,592 Q740.1,538.3 817.2,538.3 Q876.3,538.3 935.4,592" stroke="#333" stroke-width=".8" stroke-dasharray="4 1.5"/>
  <path d="M663,592 Q726.7,562 790.5,562 Q848.5,562 906.6,592" stroke="#ffb0b0" stroke-width="1.2"/>
  <path d="M663,592 Q723.6,563.5 784.3,563.5 Q837.3,563.5 890.2,592" stroke="#aaa" stroke-width=".7"/>
  <path d="M663,592 Q706.2,582.3 749.4,582.3 Q788.4,582.3 827.5,592" stroke="#ff3a3a" stroke-width=".9" stroke-dasharray="1 2"/>
  <path d="M663,592 Q703.1,583.1 743.2,583.1 Q779.1,583.1 815.1,592" stroke="#333" stroke-width=".8" stroke-dasharray="2 1 .5 1"/>
</g>
<rect x="666" y="468" width="42" height="76" fill="#fff" fill-opacity=".9" stroke="#ddd" stroke-width=".5"/>
<g fill="none">
  <line x1="669" y1="473" x2="681" y2="473" stroke="#ff3a3a" stroke-width=".9"/>
  <line x1="669" y1="480.3" x2="681" y2="480.3" stroke="#222" stroke-width=".8"/>
  <line x1="669" y1="487.6" x2="681" y2="487.6" stroke="#ff3a3a" stroke-width=".9" stroke-dasharray="1 1"/>
  <line x1="669" y1="494.9" x2="681" y2="494.9" stroke="#333" stroke-width=".8" stroke-dasharray="1 1"/>
  <line x1="669" y1="502.2" x2="681" y2="502.2" stroke="#ff3a3a" stroke-width=".9" stroke-dasharray="3 1.5"/>
  <line x1="669" y1="509.5" x2="681" y2="509.5" stroke="#333" stroke-width=".8" stroke-dasharray="4 1.5"/>
  <line x1="669" y1="516.8" x2="681" y2="516.8" stroke="#ffb0b0" stroke-width="1.2"/>
  <line x1="669" y1="524.1" x2="681" y2="524.1" stroke="#aaa" stroke-width=".7"/>
  <line x1="669" y1="531.4" x2="681" y2="531.4" stroke="#ff3a3a" stroke-width=".9" stroke-dasharray="1 2"/>
  <line x1="669" y1="538.7" x2="681" y2="538.7" stroke="#333" stroke-width=".8" stroke-dasharray="2 1 .5 1"/>
</g>
<g font-size="4.5" fill="#333">
  <text x="684" y="474.6">BB 50°</text><text x="684" y="481.9">No BB 50°</text>
  <text x="684" y="489.2">BB 40°</text><text x="684" y="496.5">No BB 40°</text>
  <text x="684" y="503.8">BB 30°</text><text x="684" y="511.1">No BB 30°</text>
  <text x="684" y="518.4">BB 20°</text><text x="684" y="525.7">No BB 20°</text>
  <text x="684" y="533">BB 10°</text><text x="684" y="540.3">No BB 10°</text>
</g>
</svg>
</body></html>
